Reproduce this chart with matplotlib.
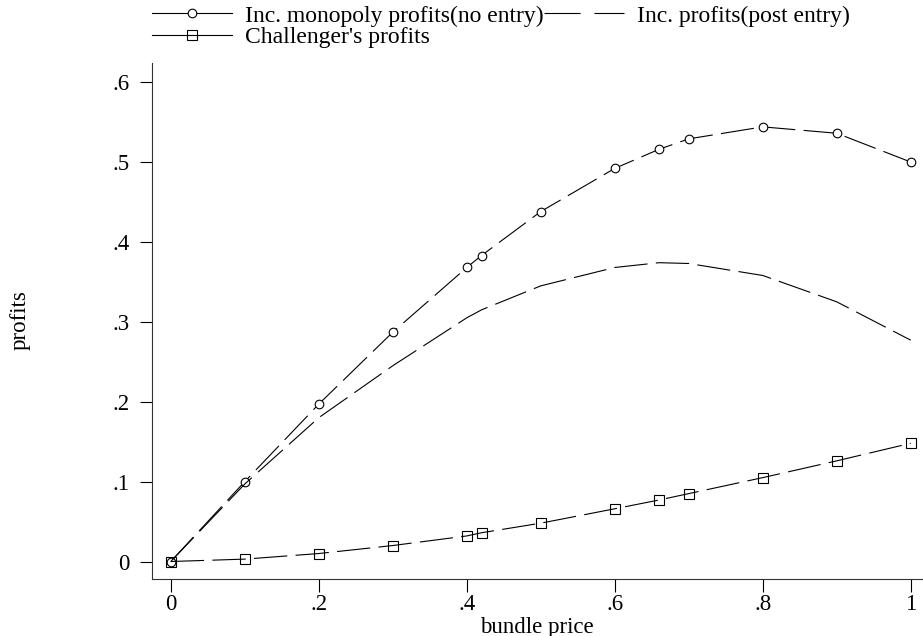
import matplotlib
matplotlib.use("Agg")
import matplotlib.pyplot as plt
from matplotlib.lines import Line2D

plt.rcParams['font.family'] = ['Liberation Serif', 'DejaVu Serif']
plt.rcParams['lines.scale_dashes'] = False

price = [0, 0.1, 0.2, 0.3, 0.4, 0.42, 0.5, 0.6, 0.66, 0.7, 0.8, 0.9, 1.0]
monopoly = [0, 0.100, 0.197, 0.287, 0.368, 0.383, 0.438, 0.492, 0.516, 0.529, 0.544, 0.536, 0.500]
post_entry = [0, 0.097, 0.180, 0.245, 0.305, 0.315, 0.345, 0.368, 0.374, 0.373, 0.358, 0.325, 0.277]
challenger = [0, 0.003, 0.010, 0.020, 0.032, 0.036, 0.048, 0.066, 0.077, 0.085, 0.105, 0.126, 0.148]

labels = ["Inc. monopoly profits(no entry)", "Inc. profits(post entry)", "Challenger's profits"]
xticks = [0, 0.2, 0.4, 0.6, 0.8, 1.0]
xticklabels = ["0", ".2", ".4", ".6", ".8", "1"]
yticks = [0, 0.1, 0.2, 0.3, 0.4, 0.5, 0.6]
yticklabels = ["0", ".1", ".2", ".3", ".4", ".5", ".6"]

FS = 16.5
LFS = 17

fig = plt.figure(figsize=(9.23, 6.36), dpi=100)
ax = fig.add_axes([0.1644, 0.0896, 0.8346, 0.8108])

dash = (24, 6)
lw = 0.8
ax.plot(price, monopoly, color='black', lw=lw, dashes=dash, marker='o', ms=6.2,
        mfc='white', mec='black', mew=0.8)
ax.plot(price, post_entry, color='black', lw=lw, dashes=dash)
ax.plot(price, challenger, color='black', lw=lw, dashes=dash, marker='s', ms=7.2,
        mfc='none', mec='black', mew=0.8)

ax.set_xlim(-0.0257, 1.0153)
ax.set_ylim(-0.0219, 0.6235)
ax.set_xticks(xticks)
ax.set_xticklabels(xticklabels)
ax.set_yticks(yticks)
ax.set_yticklabels(yticklabels)
ax.tick_params(direction='out', length=9, width=0.8, labelsize=FS, colors='black')
ax.tick_params(axis='x', pad=2)
ax.tick_params(axis='y', pad=7)
for s in ['top', 'right']:
    ax.spines[s].set_visible(False)
for s in ['left', 'bottom']:
    ax.spines[s].set_linewidth(0.8)
    ax.spines[s].set_color('#333333')

ax.set_xlabel("bundle price", fontsize=FS, labelpad=1)
fig.text(20 / 923, 1 - 320 / 636, "profits", rotation=90, fontsize=FS,
         ha='center', va='center')

h1 = Line2D([], [], color='black', lw=lw, marker='o', ms=6.2, mfc='white', mec='black', mew=0.8)
h3 = Line2D([], [], color='black', lw=lw, marker='s', ms=7.2, mfc='none', mec='black', mew=0.8)
h2 = Line2D([], [], color='black', lw=lw, dashes=(26, 10))
fig.legend([h1, h3, h2], [labels[0], labels[2], labels[1]], ncol=2,
           loc='upper left', bbox_to_anchor=(152 / 923, 1.0 - 5 / 636),
           frameon=False, fontsize=LFS, handlelength=3.4, handletextpad=0.55,
           columnspacing=0.0, labelspacing=0.0, borderpad=0.0, borderaxespad=0)

fig.savefig("out.png", dpi=100, facecolor='white')
